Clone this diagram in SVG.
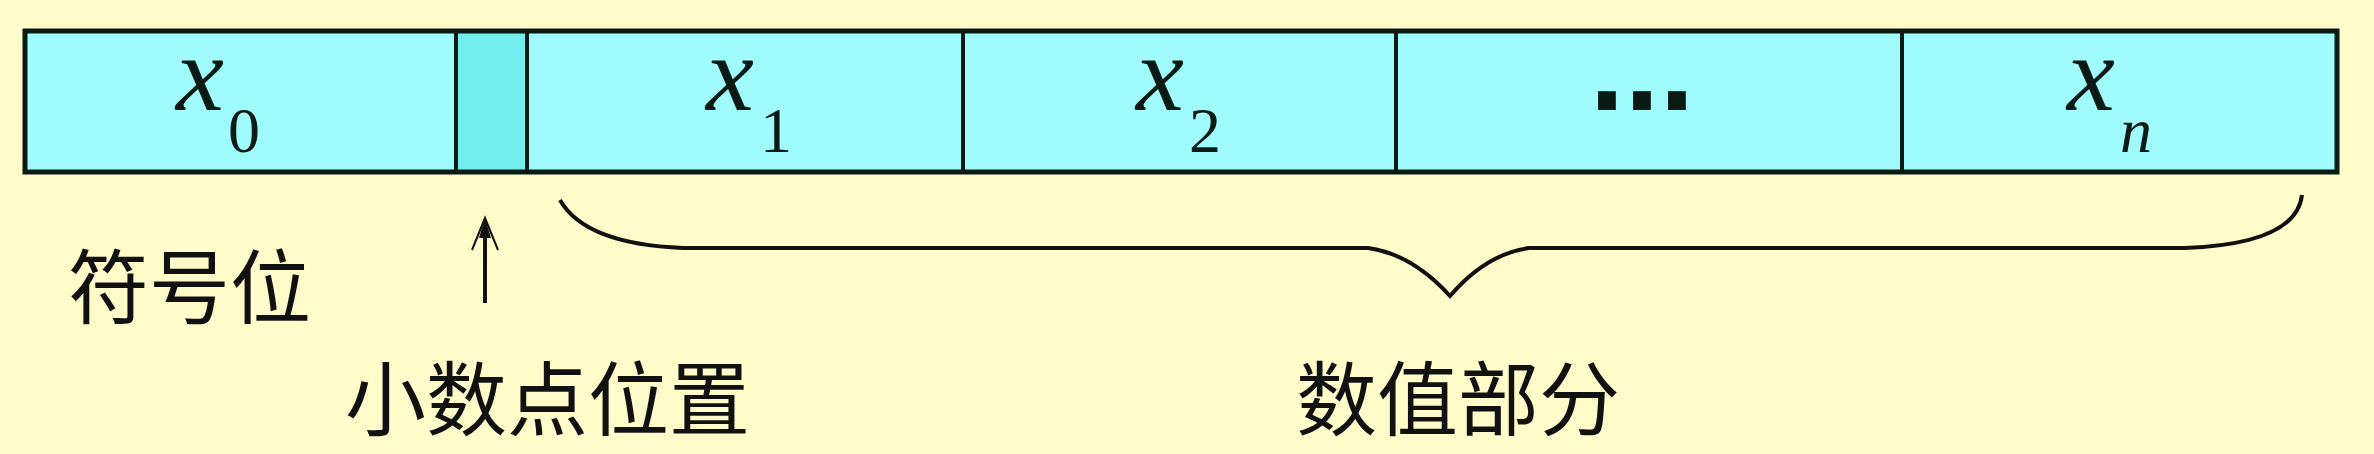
<svg xmlns="http://www.w3.org/2000/svg" width="2374" height="454" viewBox="0 0 2374 454">
  <defs>
    <style>
      .cell { fill: #a0fcfc; stroke: #0a1a14; stroke-width: 4; }
      .dp { fill: #72eeee; stroke: #0a1a14; stroke-width: 4; }
      .var { font-family: "Liberation Serif", serif; font-style: italic; font-size: 108px; fill: #0a1a14; }
      .sub { font-family: "Liberation Serif", serif; font-size: 64px; fill: #0a1a14; }
      .subi { font-family: "Liberation Serif", serif; font-style: italic; font-size: 64px; fill: #0a1a14; }
      .lbl { font-family: "Noto Sans CJK SC", "Noto Sans CJK TC", sans-serif; font-size: 81px; fill: #111; }
      .conn { fill: none; stroke: #111; stroke-width: 4; }
    </style>
  </defs>
  <rect x="0" y="0" width="2374" height="454" fill="#fffcca"/>

  <g id="cell-x0">
    <rect class="cell" x="25" y="31" width="431" height="141"/>
    <text class="var" x="176" y="110">x</text>
    <text class="sub" x="228" y="152">0</text>
  </g>
  <g id="cell-point">
    <rect class="dp" x="456" y="31" width="71" height="141"/>
  </g>
  <g id="cell-x1">
    <rect class="cell" x="527" y="31" width="436" height="141"/>
    <text class="var" x="706" y="110">x</text>
    <text class="sub" x="760" y="152">1</text>
  </g>
  <g id="cell-x2">
    <rect class="cell" x="963" y="31" width="433" height="141"/>
    <text class="var" x="1136" y="110">x</text>
    <text class="sub" x="1189" y="152">2</text>
  </g>
  <g id="cell-dots">
    <rect class="cell" x="1396" y="31" width="506" height="141"/>
    <text x="1642" y="110" text-anchor="middle" font-family="Liberation Sans, sans-serif" font-weight="bold" font-size="126" fill="#0a1a14">...</text>
  </g>
  <g id="cell-xn">
    <rect class="cell" x="1902" y="31" width="435" height="141"/>
    <text class="var" x="2067" y="110">x</text>
    <text class="subi" x="2120" y="152">n</text>
  </g>
  <rect x="25" y="31" width="2312" height="141" fill="none" stroke="#0a1a14" stroke-width="5"/>

  <g id="connectors">
    <line class="conn" x1="485" y1="303" x2="485" y2="224"/>
    <path d="M472,250 L485,218 L498,250" fill="none" stroke="#111" stroke-width="2"/>
    <path d="M485,218 L479,238 L491,238 Z" fill="#111"/>
    <path class="conn" d="M560,200 Q585,244 683,248 L1368,248 Q1412,254 1450,296 Q1486,254 1529,248 L2185,248 Q2296,244 2302,195"/>
  </g>

  <g id="label-sign"><text class="lbl" x="68" y="317">符号位</text></g>
  <g id="label-point"><text class="lbl" x="345" y="429">小数点位置</text></g>
  <g id="label-value"><text class="lbl" x="1296" y="429">数值部分</text></g>
</svg>
